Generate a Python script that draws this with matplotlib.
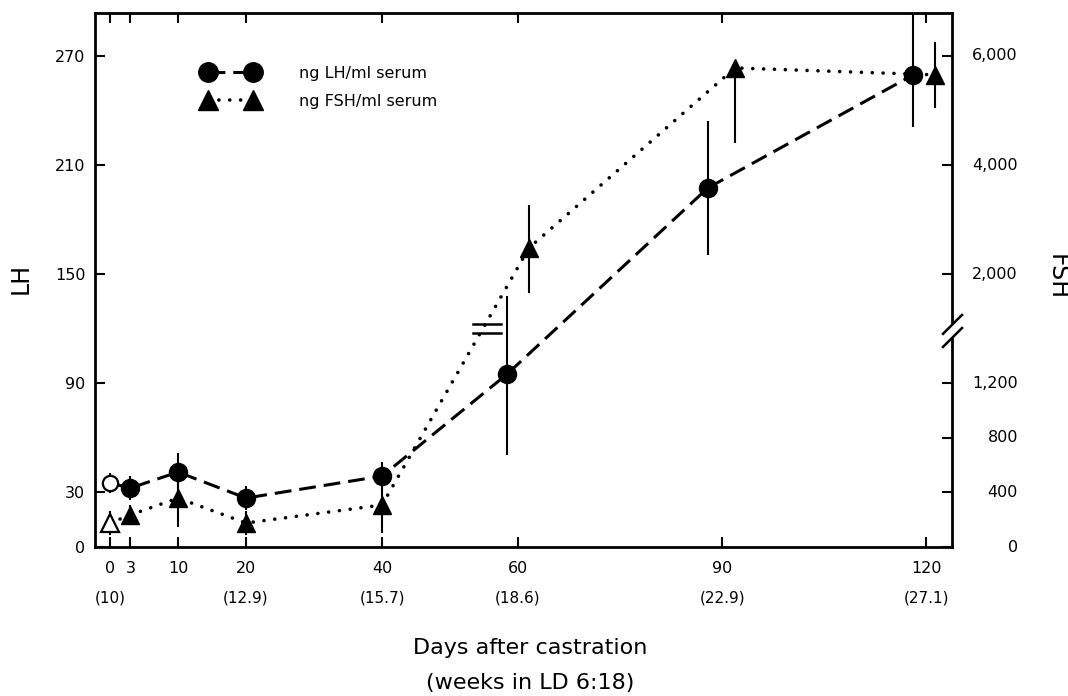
import matplotlib
matplotlib.use("Agg")
import matplotlib.pyplot as plt
import matplotlib.transforms as mtransforms
from matplotlib.lines import Line2D
import numpy as np

# LH (ng/ml serum); the points at 60/90/120 days are nudged apart as in the print
lh_days = [0, 3, 10, 20, 40, 58.4, 87.9, 118.1]
lh_vals = [35.2, 32.4, 41.2, 26.9, 39.0, 95.1, 197.4, 259.6]
lh_err_lo = [5.5, 6.6, 10.4, 6.6, 7.7, 44.5, 36.8, 28.6]
lh_err_hi = [5.5, 6.6, 10.4, 6.6, 7.7, 42.9, 36.8, 36.0]

# FSH (ng/ml serum)
fsh_days = [0, 3, 10, 20, 40, 61.6, 91.9, 121.3]
fsh_vals = [176, 235, 359, 176, 308, 2480, 5780, 5653]
fsh_err_lo = [88, 73, 213, 88, 205, 825, 1375, 605]
fsh_err_hi = [88, 73, 213, 88, 205, 787, 0, 605]

day_ticks = [0, 3, 10, 20, 40, 60, 90, 120]
week_days = [0, 20, 40, 60, 90, 120]
week_labels = ["(10)", "(12.9)", "(15.7)", "(18.6)", "(22.9)", "(27.1)"]
lh_ticks = [0, 30, 90, 150, 210, 270]
fsh_ticks = [0, 400, 800, 1200, 2000, 4000, 6000]
fsh_tick_labels = ["0", "400", "800", "1,200", "2,000", "4,000", "6,000"]

FSH_BREAK = 1500   # above this the right axis is compressed
BREAK_LH = 120     # where the break sits on the LH scale


def fsh_to_lh(v):
    """Map FSH onto the LH scale (broken right axis)"""
    v = np.asarray(v, dtype=float)
    return np.where(v <= FSH_BREAK, v * 30.0 / 400.0, 90.0 + v * 0.03)


plt.rcParams['font.family'] = ['DejaVu Sans']

fig = plt.figure(figsize=(10.68, 6.96), dpi=100)
ax = fig.add_axes([95 / 1068, 1 - 547 / 696, 857 / 1068, 534 / 696])
ax.set_xlim(-2.2, 123.8)
ax.set_ylim(0, 293.6)

dash_kw = dict(color='black', lw=2.2, dashes=(5.5, 2.6))
dot_kw = dict(color='black', lw=2.6, linestyle=(0, (0.01, 3.0)),
              dash_capstyle='round')

# LH
lh_y = np.array(lh_vals)
ax.errorbar(lh_days, lh_y, yerr=[lh_err_lo, lh_err_hi], fmt='none',
            ecolor='black', elinewidth=1.5, capsize=0, zorder=2)
ax.plot(lh_days, lh_y, zorder=3, **dash_kw)
ax.plot(lh_days[1:], lh_y[1:], 'o', color='black', ms=13, zorder=5)
ax.plot(lh_days[:1], lh_y[:1], 'o', mfc='white', mec='black', mew=1.6,
        ms=11, zorder=5)

# FSH
fsh = np.array(fsh_vals, dtype=float)
fsh_y = fsh_to_lh(fsh)
lo = fsh_y - fsh_to_lh(fsh - np.array(fsh_err_lo))
hi = fsh_to_lh(fsh + np.array(fsh_err_hi)) - fsh_y
ax.errorbar(fsh_days, fsh_y, yerr=[lo, hi], fmt='none',
            ecolor='black', elinewidth=1.5, capsize=0, zorder=2)
ax.plot(fsh_days, fsh_y, zorder=3, **dot_kw)
ax.plot(fsh_days[1:], fsh_y[1:], '^', color='black', ms=13.5, zorder=5)
ax.plot(fsh_days[:1], fsh_y[:1], '^', mfc='white', mec='black', mew=1.6,
        ms=13, zorder=5)

# "=" break mark on the FSH line where it crosses the scale break
cross = np.interp(BREAK_LH, fsh_y[4:6], fsh_days[4:6]) + 0.6
for dy in (-2.6, 2.6):
    ax.plot([cross - 2.1, cross + 2.1], [BREAK_LH + dy, BREAK_LH + dy],
            color='black', lw=1.8, zorder=4)

# axes frame and ticks
for s in ax.spines.values():
    s.set_linewidth(2.0)
ax.set_xticks(day_ticks)
ax.set_xticklabels([str(d) for d in day_ticks])
ax.set_yticks(lh_ticks)
ax.set_yticklabels([str(t) for t in lh_ticks])
ax.tick_params(axis='both', direction='in', length=7, width=1.5,
               labelsize=11.5, top=True)
ax.tick_params(axis='x', pad=10)
ax.tick_params(axis='y', pad=7)

# right (FSH) axis: ticks on a twin, labels right-aligned
ax2 = ax.twinx()
ax2.set_ylim(ax.get_ylim())
ax2.set_yticks(fsh_to_lh(fsh_ticks))
ax2.set_yticklabels([])
ax2.tick_params(axis='y', direction='in', length=7, width=1.5)
for s in ax2.spines.values():
    s.set_visible(False)
rt = mtransforms.blended_transform_factory(ax.transAxes, ax.transData)
for t, lab in zip(fsh_to_lh(fsh_ticks), fsh_tick_labels):
    ax.text(1.077, t, lab, transform=rt, ha='right', va='center',
            fontsize=11.5)

# axis break "//" on the right spine
ax.plot([1.0, 1.0], [116.5, 121.5], transform=rt, color='white', lw=3,
        clip_on=False, zorder=6)
for y0 in (110.0, 117.2):
    ax.plot([0.9895, 1.0117], [y0, y0 + 10.4], transform=rt, color='black',
            lw=1.8, clip_on=False, zorder=7)

# week labels under the day ticks
xt = ax.get_xaxis_transform()
for d, lab in zip(week_days, week_labels):
    ax.text(d, -0.0955, lab, transform=xt, ha='center', va='center',
            fontsize=11)

fig.text(530 / 1068, 1 - 648 / 696, "Days after castration", ha='center',
         va='center', fontsize=16)
fig.text(530 / 1068, 1 - 683 / 696, "(weeks in LD 6:18)", ha='center',
         va='center', fontsize=16)
fig.text(21 / 1068, 1 - 278 / 696, "LH", rotation=90, ha='center',
         va='center', fontsize=17)
fig.text(1057 / 1068, 1 - 277 / 696, "FSH", rotation=-90, ha='center',
         va='center', fontsize=17)

handles = [
    Line2D([], [], marker='o', ms=14, **dash_kw),
    Line2D([], [], marker='^', ms=14, **dot_kw),
]
ax.legend(handles, ["ng LH/ml serum", "ng FSH/ml serum"], numpoints=2,
          loc='center left', bbox_to_anchor=(203 / 1068, 1 - 87.5 / 696),
          bbox_transform=fig.transFigure, frameon=False, fontsize=11.5,
          handlelength=3.44, handletextpad=2.6, labelspacing=0.82,
          borderpad=0, borderaxespad=0)

fig.savefig("out.png", dpi=100)
